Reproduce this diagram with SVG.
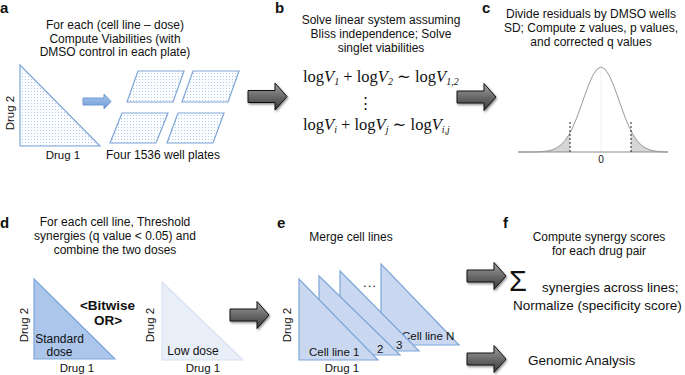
<svg xmlns="http://www.w3.org/2000/svg" width="685" height="375" viewBox="0 0 685 375">
<style>
text{font-family:"Liberation Sans",Arial,sans-serif;fill:#111}
.t{font-size:12px;text-anchor:middle}
.lbl{font-size:15px;font-weight:bold}
.ax{font-size:11.5px}
.axm{font-size:11.5px;text-anchor:middle}
.math{font-family:"Liberation Serif","DejaVu Serif",serif;font-size:16.5px}
.it{font-style:italic}
.sub{font-style:italic;font-size:10px}
.f{font-size:13.5px}
.plate{fill:url(#dots);stroke:#7ea6d8;stroke-width:1.2}
.tri{fill:#c9d8f0;stroke:#7ea6d8;stroke-width:1.2}
</style>
<defs>
<pattern id="dots" width="3" height="3" patternUnits="userSpaceOnUse">
<rect width="3" height="3" fill="#fdfeff"/>
<circle cx="1.5" cy="1.5" r="0.55" fill="#a6c0e6"/>
</pattern>
<linearGradient id="gg" x1="0" y1="0" x2="0" y2="1">
<stop offset="0" stop-color="#a0a0a0"/>
<stop offset="0.5" stop-color="#6a6a6a"/>
<stop offset="1" stop-color="#3a3a3a"/>
</linearGradient>
<linearGradient id="bg" x1="0" y1="0" x2="0" y2="1">
<stop offset="0" stop-color="#a9c6ec"/>
<stop offset="1" stop-color="#6f9bd6"/>
</linearGradient>
<filter id="sh" x="-20%" y="-20%" width="150%" height="150%">
<feDropShadow dx="1" dy="1.5" stdDeviation="1" flood-color="#000" flood-opacity="0.45"/>
</filter>
<path id="garrow" d="M0,-6 L27,-6 L27,-13.5 L39,0 L27,13.5 L27,6 L0,6 Z" fill="url(#gg)" stroke="#111" stroke-width="1" filter="url(#sh)"/>
</defs>
<rect width="685" height="375" fill="#fff"/>

<g id="panel-a">
<text class="lbl" x="0" y="13">a</text>
<text class="t" x="115" y="29">For each (cell line – dose)</text>
<text class="t" x="115" y="43">Compute Viabilities (with</text>
<text class="t" x="115" y="56">DMSO control in each plate)</text>
<polygon class="plate" points="20,65 20,146 100,146"/>
<text class="ax" transform="translate(14,113) rotate(-90)" text-anchor="middle">Drug 2</text>
<text class="axm" x="63" y="159">Drug 1</text>
<polygon class="plate" points="138,71 184,71 173,102 127,102"/>
<polygon class="plate" points="193,71 239,71 228,102 182,102"/>
<polygon class="plate" points="122,113 168,113 156,143 110,143"/>
<polygon class="plate" points="178,113 224,113 213,143 167,143"/>
<text class="t" x="163" y="159">Four 1536 well plates</text>
</g>

<g id="panel-b">
<text class="lbl" x="275" y="13">b</text>
<text class="t" x="381" y="24">Solve linear system assuming</text>
<text class="t" x="381" y="38">Bliss independence; Solve</text>
<text class="t" x="381" y="52">singlet viabilities</text>
<text class="math" x="303" y="82">log<tspan class="it">V</tspan><tspan class="sub" dy="3">1</tspan><tspan dy="-3"> + log</tspan><tspan class="it">V</tspan><tspan class="sub" dy="3">2</tspan><tspan dy="-3"> ∼ log</tspan><tspan class="it">V</tspan><tspan class="sub" dy="3">1,2</tspan></text>
<text class="math" x="365" y="108" text-anchor="middle" style="font-family:'DejaVu Serif',serif;font-size:15px">⋮</text>
<text class="math" x="303" y="130">log<tspan class="it">V</tspan><tspan class="sub" dy="3">i</tspan><tspan dy="-3">  + log</tspan><tspan class="it">V</tspan><tspan class="sub" dy="3">j</tspan><tspan dy="-3">  ∼ log</tspan><tspan class="it">V</tspan><tspan class="sub" dy="3">i,j</tspan></text>
</g>

<g id="panel-c">
<text class="lbl" x="482" y="13">c</text>
<text class="t" x="591" y="18">Divide residuals by DMSO wells</text>
<text class="t" x="591" y="32">SD; Compute z values, p values,</text>
<text class="t" x="591" y="46">and corrected q values</text>
<line x1="601" y1="67" x2="601" y2="152" stroke="#f0f0f0"/>
<path d="M531,152 L539,151.8 L545,151.3 L549,150.7 L553,149.6 L557,147.7 L561,144.8 L565,140.5 L569,134.5 L570,132.7 L570,152 Z" fill="#d6d6d6"/>
<path d="M631,152 L631,130.8 L633,134.5 L637,140.5 L641,144.8 L645,147.7 L649,149.6 L653,150.7 L657,151.3 L663,151.8 L668,152 Z" fill="#d6d6d6"/>
<line x1="518" y1="152" x2="668" y2="152" stroke="#888" stroke-width="1"/>
<path d="M518,152 L531,152 L539,151.8 L545,151.3 L549,150.7 L553,149.6 L557,147.7 L561,144.8 L565,140.5 L569,134.5 L573,126.7 L577,117.1 L581,106.2 L585,94.7 L589,83.9 L593,75 L597,69.1 L601,67 L605,69.1 L609,75 L613,83.9 L617,94.7 L621,106.2 L625,117.1 L629,126.7 L633,134.5 L637,140.5 L641,144.8 L645,147.7 L649,149.6 L653,150.7 L657,151.3 L663,151.8 L668,152" fill="none" stroke="#9a9a9a" stroke-width="1"/>
<line x1="570" y1="122" x2="570" y2="152" stroke="#222" stroke-width="1" stroke-dasharray="2,2"/>
<line x1="631" y1="122" x2="631" y2="152" stroke="#222" stroke-width="1" stroke-dasharray="2,2"/>
<text x="601" y="163" text-anchor="middle" font-size="10">0</text>
</g>

<g id="panel-d">
<text class="lbl" x="0" y="228">d</text>
<text class="t" x="115" y="226">For each cell line, Threshold</text>
<text class="t" x="115" y="240">synergies (q value &lt; 0.05) and</text>
<text class="t" x="115" y="254">combine the two doses</text>
<polygon points="34,279 34,359 115,359" fill="#abc5eb" stroke="#7ea6d8" stroke-width="1.2"/>
<text class="ax" transform="translate(28,325) rotate(-90)" text-anchor="middle">Drug 2</text>
<text class="axm" x="77" y="372">Drug 1</text>
<text class="t" x="59.5" y="343">Standard</text>
<text class="t" x="59.5" y="356">dose</text>
<text x="107.5" y="310" text-anchor="middle" font-size="13.5" font-weight="bold">&lt;Bitwise</text>
<text x="108" y="325" text-anchor="middle" font-size="13.5" font-weight="bold">OR&gt;</text>
<polygon points="162,282 162,360 243,360" fill="#e9eff9" stroke="#d8e2f2" stroke-width="1.2"/>
<text class="ax" transform="translate(154,325) rotate(-90)" text-anchor="middle">Drug 2</text>
<text class="axm" x="203" y="372">Drug 1</text>
<text class="t" x="193" y="355">Low dose</text>
</g>

<g id="panel-e">
<text class="lbl" x="277" y="228">e</text>
<text class="t" x="351" y="241">Merge cell lines</text>
<text x="370" y="287" text-anchor="middle" font-size="13" letter-spacing="1">...</text>
<polygon class="tri" points="381,264 381,345 459,345"/>
<text class="ax" x="402" y="340">Cell line N</text>
<polygon class="tri" points="340,271 340,351 419,351"/>
<text class="ax" x="396" y="349">3</text>
<polygon class="tri" points="319,276 319,355 400,355"/>
<text class="ax" x="377" y="353">2</text>
<polygon class="tri" points="299,279 299,360 378,360"/>
<text class="ax" x="309" y="356">Cell line 1</text>
<text class="ax" transform="translate(291,325) rotate(-90)" text-anchor="middle">Drug 2</text>
<text class="axm" x="342" y="372">Drug 1</text>
</g>

<g id="panel-f">
<text class="lbl" x="503" y="228">f</text>
<text class="t" x="599" y="241">Compute synergy scores</text>
<text class="t" x="599" y="255">for each drug pair</text>
<text x="509" y="291" font-size="29">Σ</text>
<text class="f" x="542" y="292">synergies across lines;</text>
<text class="f" x="513" y="310">Normalize (specificity score)</text>
<text class="f" x="528" y="365">Genomic Analysis</text>
</g>

<g id="connectors">
<path d="M83,98 L104,98 L104,94 L111,101.5 L104,109 L104,105 L83,105 Z" fill="url(#bg)" stroke="#6f9bd6" stroke-width="1"/>
<use href="#garrow" transform="translate(248,96.5)"/>
<use href="#garrow" transform="translate(457,97)"/>
<use href="#garrow" transform="translate(230,315)"/>
<use href="#garrow" transform="translate(467,276)"/>
<use href="#garrow" transform="translate(467,359)"/>
</g>
</svg>
